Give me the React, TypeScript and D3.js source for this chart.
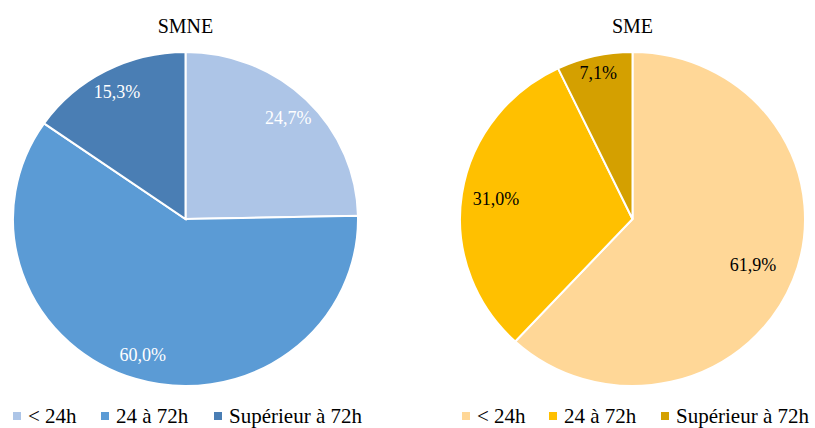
import React from "react";
import * as d3 from "d3";

const categories = ["< 24h", "24 à 72h", "Supérieur à 72h"];
const smneValues = [24.7, 60.0, 15.3];
const smeValues = [61.9, 31.0, 7.1];
const smneColors = ["#ADC5E7", "#5B9BD5", "#4A7EB4"];
const smeColors = ["#FFD797", "#FFC000", "#D4A000"];
const smneLabelColor = "#FFFFFF";
const smeLabelColor = "#000000";
const smneLabelR = [0.85, 0.85, 0.86];
const smeLabelR = [0.75, 0.8, 0.9];

const W = 815;
const H = 428;
const FONT = "Liberation Serif";
const fmt = (v: number) => v.toFixed(1).replace(".", ",") + "%";

function Pie({ cx, cy, rx, ry, title, values, colors, labelColor, labelR, legendX }: any) {
  const pie = d3.pie<number>().sort(null).value((d) => d);
  const arcs = pie(values);
  const arc = d3.arc<d3.PieArcDatum<number>>().innerRadius(0).outerRadius(rx);
  const sy = ry / rx;
  return (
    <g>
      <text x={cx} y={33} textAnchor="middle" style={{ fontFamily: FONT, fontSize: 20 }} fill="#000">{title}</text>
      <g transform={`translate(${cx},${cy}) scale(1,${sy})`}>
        {arcs.map((a, i) => (
          <path key={i} d={arc(a) || ""} fill={colors[i]} stroke="#fff" strokeWidth={2} vectorEffect="non-scaling-stroke" />
        ))}
      </g>
      {arcs.map((a, i) => {
        const mid = (a.startAngle + a.endAngle) / 2;
        const r = rx * labelR[i];
        const x = cx + Math.sin(mid) * r;
        const y = cy - Math.cos(mid) * r * sy;
        return (
          <text key={i} x={x} y={y} dy="0.35em" textAnchor="middle" style={{ fontFamily: FONT, fontSize: 18 }} fill={labelColor}>{fmt(values[i])}</text>
        );
      })}
      {categories.map((c, i) => (
        <g key={i} transform={`translate(${legendX[i]},0)`}>
          <rect x={0} y={412} width={8} height={8} fill={colors[i]} />
          <text x={15} y={423} style={{ fontFamily: FONT, fontSize: 21 }} fill="#000">{c}</text>
        </g>
      ))}
    </g>
  );
}

export default function App() {
  return (
    <svg width={W} height={H} style={{ display: "block", position: "absolute", left: 0, top: 0, background: "#fff" }}>
      <Pie cx={185.5} cy={219} rx={172.5} ry={167} title="SMNE" values={smneValues} colors={smneColors}
        labelColor={smneLabelColor} labelR={smneLabelR} legendX={[13, 101, 214]} />
      <Pie cx={632.5} cy={219} rx={172.5} ry={167} title="SME" values={smeValues} colors={smeColors}
        labelColor={smeLabelColor} labelR={smeLabelR} legendX={[462, 549, 661]} />
    </svg>
  );
}
